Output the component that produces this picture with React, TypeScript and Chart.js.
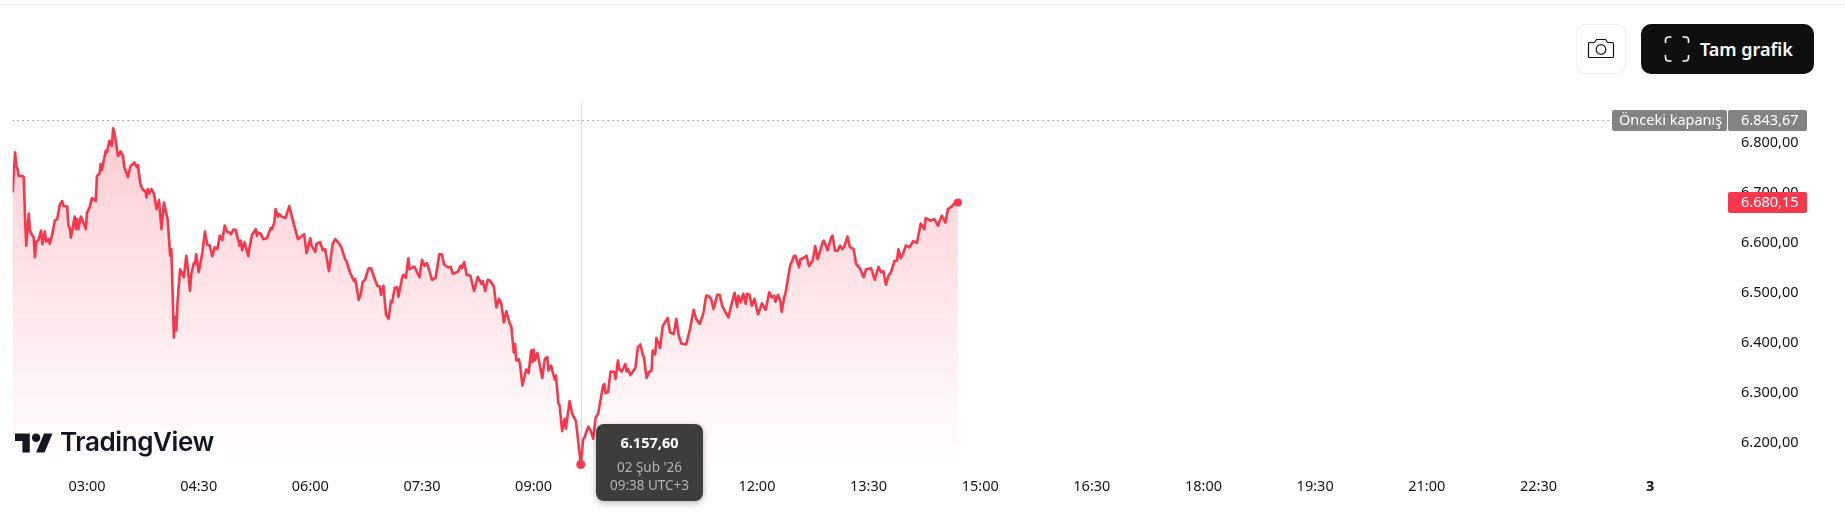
import React, { useEffect, useRef } from "react";
import { Chart, registerables } from "chart.js";

Chart.register(...registerables);

const times = [
120,122,123,124,125,128,129,130,131,133,134,136,137,138,139,141,143,144,146,147,149,150,152,154,156,158,160,161,164,165,166,167,170,171,172,173,175,176,179,180,182,184,187,188,190,191,192,195,196,198,200,201,202,205,207,209,210,213,215,217,218,220,221,223,225,227,228,229,230,232,234,236,238,240,242,244,245,247,248,250,251,252,253,255,258,260,261,263,264,266,267,268,270,273,275,277,279,281,283,285,287,289,291,293,295,296,298,300,301,303,304,305,307,310,311,313,316,317,318,320,322,325,328,329,331,332,334,335,337,340,343,346,350,355,357,360,361,364,365,
368,370,372,375,378,380,383,385,388,389,392,395,396,397,399,401,402,404,407,409,411,414,416,417,419,421,423,425,426,428,430,431,434,435,437,439,440,443,444,446,448,450,452,454,456,458,461,464,466,468,471,473,475,479,481,482,484,486,489,492,495,498,499,501,503,505,508,510,512,514,516,518,521,522,524,525,526,528,529,531,534,536,538,539,540,541,543,547,549,551,552,554,557,558,560,561,563,565,566,569,571,573,574,575,578,580,581,584,586,588,590,592,596,597,598,600,602,605,606,608,609,611,614,615,616,618,622,624,
626,628,629,631,633,635,636,638,639,642,644,648,650,653,655,657,659,663,666,669,671,674,677,679,681,683,685,688,690,692,697,699,702,704,705,707,709,711,712,714,716,718,721,724,727,730,732,734,735,737,739,740,742,743,747,748,750,751,754,755,757,760,762,765,767,769,773,774,777,780,781,783,785,787,789,791,793,795,798,800,803,806,808,812,815,818,820,822,824,826,828,831,833,834,836,838,840,843,846,849,852,855,856,860,863,866,869,872,874,877,881,882];

const prices = [
6700,6780,6753,6747,6733,6733,6731,6650,6594,6658,6624,6614,6610,6571,6601,6606,6624,6597,6622,6602,6607,6598,6617,6644,6647,6676,6683,6673,6672,6634,6630,6610,6652,6627,6647,6627,6652,6647,6627,6660,6670,6689,6683,6733,6737,6757,6745,6783,6780,6803,6793,6828,6820,6773,6782,6773,6751,6731,6753,6757,6760,6751,6755,6717,6705,6703,6690,6707,6698,6707,6697,6667,6685,6627,6680,6657,6647,6574,6587,6411,6451,6425,6484,6547,6531,6574,6554,6504,6537,6559,6557,6577,6541,6581,6622,6596,6594,6573,6591,6587,6614,6605,6634,6622,6620,6617,6626,6625,6614,6594,6604,6585,6601,6573,6591,6616,6627,6614,6620,6618,6607,6609,6629,6627,6640,6667,6652,6657,6652,6649,6673,6644,6607,6617,6579,6609,6594,6581,6598,
6601,6585,6587,6543,6597,6607,6599,6591,6567,6564,6541,6524,6528,6516,6486,6501,6521,6526,6549,6549,6534,6514,6512,6496,6514,6456,6448,6484,6481,6510,6511,6492,6530,6536,6530,6569,6547,6552,6552,6541,6531,6566,6554,6559,6544,6526,6530,6577,6577,6556,6551,6552,6538,6542,6554,6549,6561,6536,6534,6504,6532,6518,6523,6504,6526,6524,6512,6471,6488,6478,6441,6463,6437,6433,6381,6398,6365,6368,6358,6315,6347,6340,6385,6362,6387,6365,6380,6330,6368,6372,6345,6355,6327,6335,6279,6275,6224,6249,6229,6284,6260,6249,6245,6225,6157.6,6209,6211,6233,6225,6209,6251,6259,6315,6318,6300,6302,6343,6342,6328,6365,6348,6343,6358,6343,6348,6336,6350,6391,
6397,6377,6371,6330,6342,6345,6385,6377,6410,6390,6433,6450,6421,6418,6448,6415,6399,6397,6427,6466,6448,6438,6461,6494,6494,6488,6468,6496,6496,6474,6451,6472,6500,6472,6494,6481,6498,6478,6498,6496,6474,6488,6457,6479,6466,6501,6491,6494,6482,6496,6483,6462,6491,6499,6557,6561,6574,6574,6551,6567,6569,6574,6553,6565,6593,6567,6601,6604,6585,6611,6614,6584,6584,6594,6587,6596,6612,6591,6587,6557,6549,6531,6547,6549,6526,6552,6541,6543,6516,6534,6541,6564,6564,6587,6569,6579,6594,6591,6603,6600,6638,6627,6649,6644,6647,6634,6654,6640,6667,6672,6684,6680.15];

const yTicks = [6200, 6300, 6400, 6500, 6600, 6700, 6800];
const xTicks = [180, 270, 360, 450, 540, 630, 720, 810, 900, 990, 1080, 1170, 1260, 1350, 1440];
const xTickLabels = ["03:00","04:30","06:00","07:30","09:00","10:30","12:00","13:30","15:00","16:30","18:00","19:30","21:00","22:30","3"];
const previousClose = 6843.67;
const lastPrice = 6680.15;
const hoverTime = 578;
const hoverPrice = 6157.6;
const xMin = 120;
const xMax = 1502;
const yMin = 6146.63;
const yMax = 6884.56;

const RED = "#f7374b";
const TICK_FONT = "'Noto Sans', sans-serif";
const TICK_SIZE = 14.5;

const fmt = (v: number) => {
  const [a, b] = v.toFixed(2).split(".");
  return a.replace(/\B(?=(\d{3})+$)/g, ".") + "," + b;
};

const overlayPlugin = {
  id: "overlay",
  beforeDatasetsDraw(chart: any) {
    const { ctx, scales } = chart;
    const x = Math.round(scales.x.getPixelForValue(hoverTime)) + 0.5;
    ctx.save();
    ctx.strokeStyle = "#d9d9d9";
    ctx.lineWidth = 1;
    ctx.beginPath();
    ctx.moveTo(x, 103);
    ctx.lineTo(x, scales.y.getPixelForValue(hoverPrice));
    ctx.stroke();
    ctx.restore();
  },
  afterDraw(chart: any) {
    const { ctx, scales } = chart;
    const box = (x: number, w: number, yc: number, color: string, text: string, tx: number) => {
      ctx.fillStyle = color;
      ctx.beginPath();
      ctx.roundRect(x, yc - 10.5, w, 21, 2);
      ctx.fill();
      ctx.fillStyle = "#ffffff";
      ctx.font = `${TICK_SIZE}px ${TICK_FONT}`;
      ctx.textAlign = "left";
      ctx.textBaseline = "middle";
      ctx.fillText(text, tx, yc);
    };
    ctx.save();
    const yPrev = scales.y.getPixelForValue(previousClose);
    box(1612, 115, yPrev, "#838383", "Önceki kapanış", 1619);
    box(1728, 79, yPrev, "#838383", fmt(previousClose), 1741);
    const yLast = scales.y.getPixelForValue(lastPrice);
    box(1728, 79, yLast, RED, fmt(lastPrice), 1741);
    ctx.restore();
  },
};

export default function App() {
  const ref = useRef<HTMLCanvasElement>(null);
  useEffect(() => {
    document.body.style.margin = "0";
    document.documentElement.style.overflow = "hidden";
    const points = times.map((t, i) => ({ x: t, y: prices[i] }));
    const hoverIdx = times.indexOf(hoverTime);
    const lastIdx = times.length - 1;
    const chart = new Chart(ref.current as HTMLCanvasElement, {
      type: "line",
      data: {
        datasets: [
          {
            data: [{ x: xMin, y: previousClose }, { x: xMax, y: previousClose }],
            borderColor: "#666666",
            borderWidth: 1,
            borderDash: [1, 4],
            pointRadius: 0,
            fill: false,
          },
          {
            data: points,
            borderColor: RED,
            borderWidth: 2.6,
            borderJoinStyle: "round",
            tension: 0,
            fill: "start",
            backgroundColor: (c: any) => {
              const a = c.chart.chartArea;
              if (!a) return "rgba(247,55,75,0.2)";
              const g = c.chart.ctx.createLinearGradient(0, 120, 0, a.bottom - 8);
              g.addColorStop(0, "rgba(247,55,75,0.26)");
              g.addColorStop(1, "rgba(247,55,75,0)");
              return g;
            },
            pointBackgroundColor: RED,
            pointBorderWidth: 0,
            pointRadius: (c: any) => (c.dataIndex === hoverIdx ? 4.5 : c.dataIndex === lastIdx ? 4 : 0),
          },
        ],
      } as any,
      plugins: [overlayPlugin],
      options: {
        responsive: false,
        animation: false,
        events: [],
        layout: { padding: { left: 12.6, top: 100, right: 0, bottom: 0 } },
        plugins: { legend: { display: false }, tooltip: { enabled: false }, title: { display: false } },
        scales: {
          x: {
            type: "linear",
            min: xMin,
            max: xMax,
            border: { display: false },
            grid: { display: false, drawTicks: false },
            afterFit: (s: any) => { s.height = 55; },
            afterBuildTicks: (s: any) => { s.ticks = xTicks.map((value) => ({ value })); },
            ticks: {
              autoSkip: false,
              maxRotation: 0,
              minRotation: 0,
              padding: 8,
              color: "#131313",
              font: (c: any) => ({
                family: TICK_FONT,
                size: TICK_SIZE,
                weight: c.tick && c.tick.value === 1440 ? "bold" : "normal",
              }),
              callback: (v: any) => xTickLabels[xTicks.indexOf(v)],
            },
          },
          y: {
            type: "linear",
            position: "right",
            min: yMin,
            max: yMax,
            border: { display: false },
            grid: { display: false, drawTicks: false },
            afterFit: (s: any) => { s.width = 118; },
            afterBuildTicks: (s: any) => { s.ticks = yTicks.map((value) => ({ value })); },
            ticks: {
              padding: 14,
              color: "#131313",
              font: { family: TICK_FONT, size: TICK_SIZE },
              callback: (v: any) => fmt(Number(v)),
            },
          },
        },
      } as any,
    });
    return () => chart.destroy();
  }, []);

  return (
    <div style={{ position: "absolute", left: 0, top: 0, width: 1845, height: 525, overflow: "hidden", background: "#fff" }}>
      <div style={{ position: "absolute", left: 0, top: 4, width: 1845, height: 1, background: "#e9e9e9" }} />
      <canvas ref={ref} width={1845} height={525} style={{ position: "absolute", left: 0, top: 0, display: "block" }} />

      {/* TradingView mark */}
      <svg style={{ position: "absolute", left: 15, top: 429 }} width="38" height="28" viewBox="0 0 36 26">
        <path d="M14 22H7V11H0V4h14v18zM28 22h-8l7.5-18h8L28 22z" fill="#131722" />
        <circle cx="20" cy="8" r="4" fill="#131722" />
      </svg>
      <div style={{ position: "absolute", left: 60, top: 425, font: "600 26px Inter, sans-serif", color: "#131722", letterSpacing: "-0.4px", lineHeight: "34px" }}>
        TradingView
      </div>

      {/* Tooltip */}
      <div style={{ position: "absolute", left: 596, top: 424, width: 107, height: 77, borderRadius: 8, background: "#3d3d3d", boxShadow: "0 2px 6px rgba(0,0,0,0.3)", textAlign: "center", fontFamily: TICK_FONT }}>
        <div style={{ position: "absolute", left: 0, right: 0, top: 9, font: `bold ${TICK_SIZE}px ${TICK_FONT}`, color: "#fff", lineHeight: "18px" }}>6.157,60</div>
        <div style={{ position: "absolute", left: 0, right: 0, top: 35, fontSize: 13.5, color: "#b2b2b2", lineHeight: "16px" }}>02 Şub '26</div>
        <div style={{ position: "absolute", left: 0, right: 0, top: 53, fontSize: 13.5, color: "#b2b2b2", lineHeight: "16px" }}>09:38 UTC+3</div>
      </div>

      {/* Camera button */}
      <div style={{ position: "absolute", left: 1576, top: 24, width: 48, height: 48, border: "1px solid #efefef", borderRadius: 9, background: "#fff", display: "flex", alignItems: "center", justifyContent: "center" }}>
        <svg width="28" height="28" viewBox="0 0 28 28" fill="none" stroke="#131313" strokeWidth="1.2">
          <path d="M1.500 8.500a1 1 0 0 1 1-1h5l2-3h9l2 3h5a1 1 0 0 1 1 1v13a1 1 0 0 1-1 1h-23a1 1 0 0 1-1-1z" />
          <circle cx="14" cy="14.500" r="4.800" />
        </svg>
      </div>

      {/* Full chart button */}
      <div style={{ position: "absolute", left: 1641, top: 24, width: 173, height: 50, borderRadius: 10, background: "#0f0f0f" }}>
        <svg style={{ position: "absolute", left: 23, top: 12 }} width="26" height="26" viewBox="0 0 26 26" fill="none" stroke="#fff" strokeWidth="1.6">
          <path d="M1.500 7V4a3 3 0 0 1 3-3h3M18.500 1h3a3 3 0 0 1 3 3v3M24.500 19v3a3 3 0 0 1-3 3h-3M7.500 25h-3a3 3 0 0 1-3-3v-3" />
        </svg>
        <div style={{ position: "absolute", left: 59, top: 12, font: "600 18px 'Noto Sans', sans-serif", color: "#fff", lineHeight: "26px", whiteSpace: "nowrap" }}>Tam grafik</div>
      </div>
    </div>
  );
}
